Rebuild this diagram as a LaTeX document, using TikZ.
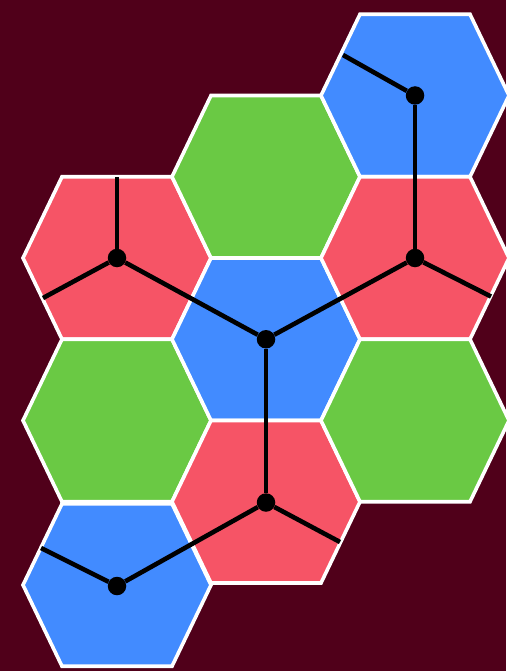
\documentclass[tikz,border=0pt]{standalone}
\usepackage{tikz}
\usetikzlibrary{calc}
\definecolor{bgcolor}{RGB}{80,0,26}
\definecolor{hexred}{RGB}{246,84,102}
\definecolor{hexgreen}{RGB}{106,201,68}
\definecolor{hexblue}{RGB}{66,139,255}

\begin{document}
\begin{tikzpicture}[x=1pt,y=-1pt,
    hexcell/.style={draw=white,line width=3.6,line join=miter},
    junction/.style={circle,fill=black,minimum size=18.5,inner sep=0pt},
    link/.style={black,line width=4.6}]
        \def\a{94}
        \def\b{55}
        \def\h{81.25}
        % background
        \fill[bgcolor] (0,0) rectangle (506,671);
        \useasboundingbox (0,0) rectangle (506,671);

        % hexagon grid
        \foreach \cx/\cy/\col in {117/258/hexred,117/420.5/hexgreen,117/585/hexblue,
                                  266/176.75/hexgreen,266/339.25/hexblue,266/501.75/hexred,
                                  415/95.5/hexblue,415/258/hexred,415/420.5/hexgreen} {
          \filldraw[hexcell,fill=\col]
            (\cx-\a,\cy) -- (\cx-\b,\cy-\h) -- (\cx+\b,\cy-\h) --
            (\cx+\a,\cy) -- (\cx+\b,\cy+\h) -- (\cx-\b,\cy+\h) -- cycle;
        }

        % junctions
        \node[junction] (redleft)   at (117,258)    {};
        \node[junction] (bluemid)   at (266,339.25) {};
        \node[junction] (redright)  at (415,258)    {};
        \node[junction] (bluetop)   at (415,95.5)   {};
        \node[junction] (redmid)    at (266,502.5)  {};
        \node[junction] (bluebot)   at (117,586)    {};

        % open ends at edge midpoints
        \coordinate (redleftup)   at (117,176.75);
        \coordinate (redleftsw)   at (43,298);
        \coordinate (redrightse)  at (491,296.5);
        \coordinate (bluetopnw)   at (343,55);
        \coordinate (redmidse)    at (340,542);
        \coordinate (bluebotnw)   at (41,548);

        % links
        \draw[link] (redleft) -- (redleftup);
        \draw[link] (redleft) -- (redleftsw);
        \draw[link] (redleft) -- (bluemid);
        \draw[link] (bluemid) -- (redright);
        \draw[link] (bluemid) -- (redmid);
        \draw[link] (redright) -- (bluetop);
        \draw[link] (redright) -- (redrightse);
        \draw[link] (bluetop) -- (bluetopnw);
        \draw[link] (redmid) -- (redmidse);
        \draw[link] (redmid) -- (bluebot);
        \draw[link] (bluebot) -- (bluebotnw);
      \end{tikzpicture}
\end{document}
